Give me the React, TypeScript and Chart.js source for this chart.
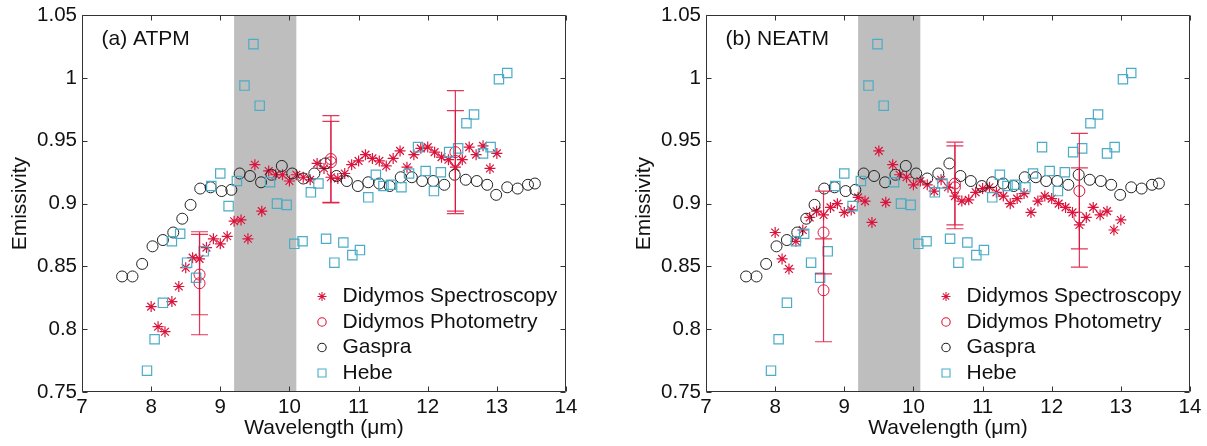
import React, { useEffect, useRef } from "react";
import { Chart, registerables } from "chart.js";

Chart.register(...registerables);

// ---------------- data ----------------
const xTickValues = [7, 8, 9, 10, 11, 12, 13, 14];
const xTickLabels = ["7", "8", "9", "10", "11", "12", "13", "14"];
const yTickValues = [0.75, 0.8, 0.85, 0.9, 0.95, 1.0, 1.05];
const yTickLabels = ["0.75", "0.8", "0.85", "0.9", "0.95", "1", "1.05"];
const xLabel = "Wavelength (\u03BCm)";
const yLabel = "Emissivity";
const panelLabels = ["(a) ATPM", "(b) NEATM"];
const seriesNames = ["Didymos Spectroscopy", "Didymos Photometry", "Gaspra", "Hebe"];
const bandStart = 9.2;
const bandEnd = 10.1;

const specWave = [
  8.0, 8.1, 8.2, 8.3, 8.4, 8.5, 8.6, 8.7, 8.8, 8.9,
  9.0, 9.1, 9.2, 9.3, 9.4, 9.5, 9.6, 9.7, 9.8, 9.9,
  10.0, 10.1, 10.2, 10.3, 10.4, 10.5, 10.6, 10.7, 10.8, 10.9,
  11.0, 11.1, 11.2, 11.3, 11.4, 11.5, 11.6, 11.7, 11.8, 11.9,
  12.0, 12.1, 12.2, 12.3, 12.4, 12.5, 12.6, 12.7, 12.8, 12.9,
  13.0,
];
const specATPM = [
  0.818, 0.802, 0.798, 0.822, 0.834, 0.849, 0.857, 0.856, 0.865, 0.872,
  0.868, 0.874, 0.886, 0.887, 0.872, 0.931, 0.894, 0.926, 0.923, 0.923,
  0.918, 0.923, 0.921, 0.919, 0.932, 0.928, 0.921, 0.920, 0.924, 0.931,
  0.934, 0.939, 0.936, 0.934, 0.930, 0.936, 0.942, 0.929, 0.939, 0.944,
  0.945, 0.941, 0.937, 0.935, 0.929, 0.935, 0.945, 0.939, 0.946, 0.928,
  0.940,
];
const specNEATM = [
  0.877, 0.856, 0.848, 0.870, 0.879, 0.889, 0.894, 0.891, 0.897, 0.900,
  0.893, 0.895, 0.905, 0.902, 0.885, 0.942, 0.901, 0.931, 0.923, 0.921,
  0.915, 0.918, 0.915, 0.910, 0.919, 0.913, 0.906, 0.902, 0.903, 0.909,
  0.912, 0.913, 0.909, 0.906, 0.900, 0.904, 0.908, 0.893, 0.902, 0.906,
  0.904, 0.900, 0.897, 0.893, 0.883, 0.889, 0.897, 0.891, 0.894, 0.879,
  0.887,
];

const photWave = [8.7, 8.7, 10.6, 10.6, 12.4, 12.4];
const photATPM = [0.8435, 0.8366, 0.9355, 0.933, 0.941, 0.934];
const photATPMErr = [0.032, 0.041, 0.0345, 0.0325, 0.049, 0.04];
const photNEATM = [0.877, 0.831, 0.916, 0.913, 0.91, 0.889];
const photNEATMErr = [0.033, 0.041, 0.033, 0.033, 0.046, 0.0395];

const gaspraWave = [
  7.58, 7.73, 7.87, 8.02, 8.17, 8.32, 8.45, 8.57, 8.71, 8.86,
  9.02, 9.16, 9.28, 9.43, 9.59, 9.74, 9.89, 10.04, 10.2, 10.36,
  10.52, 10.68, 10.83, 10.99, 11.14, 11.3, 11.45, 11.61, 11.77, 11.92,
  12.08, 12.24, 12.39, 12.55, 12.71, 12.86, 12.99, 13.15, 13.3, 13.45,
  13.55,
];
const gaspraEmis = [
  0.842, 0.842, 0.852, 0.866, 0.871, 0.877, 0.888, 0.899, 0.912, 0.913,
  0.91, 0.911, 0.924, 0.922, 0.917, 0.923, 0.93, 0.924, 0.92, 0.924,
  0.932, 0.922, 0.918, 0.914, 0.917, 0.916, 0.914, 0.921, 0.921, 0.918,
  0.918, 0.915, 0.923, 0.919, 0.918, 0.915, 0.907, 0.913, 0.912, 0.915,
  0.916,
];

const hebeWave = [
  7.94, 8.05, 8.17, 8.3, 8.42, 8.52, 8.65, 8.76, 8.87, 9.0,
  9.12, 9.24, 9.35, 9.48, 9.57, 9.72, 9.82, 9.96, 10.07, 10.19,
  10.31, 10.42, 10.53, 10.65, 10.78, 10.91, 11.02, 11.14, 11.25, 11.36,
  11.47, 11.62, 11.73, 11.86, 11.97, 12.09, 12.19, 12.31, 12.44, 12.56,
  12.67, 12.8, 12.91, 13.03, 13.15,
];
const hebeEmis = [
  0.767, 0.792, 0.821, 0.87, 0.876, 0.853, 0.841, 0.862, 0.914, 0.924,
  0.898, 0.918, 0.994, 1.027, 0.978, 0.917, 0.9, 0.899, 0.868, 0.87,
  0.909, 0.916, 0.872, 0.853, 0.869, 0.859, 0.863, 0.905, 0.923, 0.914,
  0.915, 0.913, 0.924, 0.945, 0.926, 0.91, 0.925, 0.941, 0.944, 0.964,
  0.971, 0.94, 0.945, 0.999, 1.004,
];

// ---------------- style ----------------
const FONT = '"Liberation Sans", Arial, Helvetica, sans-serif';
const RED = "#DC143C";
const CYAN = "#4BACC6";
const BLACK = "#222222";
const BAND = "#BEBEBE";
const TEXT = "#111111";
const seriesColors = [RED, RED, BLACK, CYAN];
const seriesMarkers = ["star", "circle", "circle", "rect"];
const legendSizes = [4.5, 4.2, 4.2, 4.0];

function drawMarker(ctx: CanvasRenderingContext2D, style: string, x: number, y: number, r: number, color: string, lw: number) {
  ctx.save();
  ctx.strokeStyle = color;
  ctx.lineWidth = lw;
  ctx.beginPath();
  if (style === "star") {
    for (let k = 0; k < 4; k++) {
      const a = (k * Math.PI) / 4;
      ctx.moveTo(x - r * Math.cos(a), y - r * Math.sin(a));
      ctx.lineTo(x + r * Math.cos(a), y + r * Math.sin(a));
    }
  } else if (style === "circle") {
    ctx.arc(x, y, r, 0, Math.PI * 2);
  } else {
    ctx.rect(x - r, y - r, 2 * r, 2 * r);
  }
  ctx.stroke();
  ctx.restore();
}

function buildConfig(panelIdx: number, spec: number[], phot: number[], photErr: number[], rightPad: number): any {
  const bandPlugin = {
    id: "band" + panelIdx,
    beforeDatasetsDraw(chart: any) {
      const { ctx, chartArea, scales } = chart;
      const x1 = scales.x.getPixelForValue(bandStart);
      const x2 = scales.x.getPixelForValue(bandEnd);
      ctx.save();
      ctx.fillStyle = BAND;
      ctx.fillRect(x1, chartArea.top, x2 - x1, chartArea.bottom - chartArea.top);
      ctx.restore();
    },
  };
  const errPlugin = {
    id: "err" + panelIdx,
    afterDatasetsDraw(chart: any) {
      const { ctx, scales } = chart;
      ctx.save();
      ctx.strokeStyle = RED;
      ctx.globalAlpha = 0.85;
      ctx.lineWidth = 1.2;
      for (let i = 0; i < photWave.length; i++) {
        const x = scales.x.getPixelForValue(photWave[i]);
        const y1 = scales.y.getPixelForValue(phot[i] + photErr[i]);
        const y2 = scales.y.getPixelForValue(phot[i] - photErr[i]);
        ctx.beginPath();
        ctx.moveTo(x, y1);
        ctx.lineTo(x, y2);
        ctx.moveTo(x - 8.5, y1);
        ctx.lineTo(x + 8.5, y1);
        ctx.moveTo(x - 8.5, y2);
        ctx.lineTo(x + 8.5, y2);
        ctx.stroke();
      }
      ctx.restore();
    },
  };
  const framePlugin = {
    id: "frame" + panelIdx,
    afterDraw(chart: any) {
      const { ctx, chartArea, scales } = chart;
      const L = Math.round(chartArea.left) + 0.5;
      const R = Math.round(chartArea.right) - 0.5;
      const T = Math.round(chartArea.top) + 0.5;
      const B = Math.round(chartArea.bottom) - 0.5;
      ctx.save();
      ctx.strokeStyle = "#333333";
      ctx.lineWidth = 1;
      ctx.beginPath();
      ctx.rect(L, T, R - L, B - T);
      const tl = 5;
      xTickValues.forEach((v) => {
        const px = Math.round(scales.x.getPixelForValue(v)) + 0.5;
        ctx.moveTo(px, B);
        ctx.lineTo(px, B - tl);
        ctx.moveTo(px, T);
        ctx.lineTo(px, T + tl);
      });
      yTickValues.forEach((v) => {
        const py = Math.round(scales.y.getPixelForValue(v)) + 0.5;
        ctx.moveTo(L, py);
        ctx.lineTo(L + tl, py);
        ctx.moveTo(R, py);
        ctx.lineTo(R - tl, py);
      });
      ctx.stroke();

      // panel label
      ctx.fillStyle = TEXT;
      ctx.font = "21px " + FONT;
      ctx.textAlign = "left";
      ctx.textBaseline = "middle";
      ctx.fillText(panelLabels[panelIdx], chartArea.left + 19.5, chartArea.top + 23.5);

      // legend
      const symX = chartArea.left + 240;
      const txtX = chartArea.left + 260.5;
      seriesNames.forEach((name, k) => {
        const y = chartArea.bottom - 95.5 + k * 25.5;
        drawMarker(ctx, seriesMarkers[k], symX, y, legendSizes[k], seriesColors[k], 1.1);
        ctx.fillStyle = TEXT;
        ctx.fillText(name, txtX, y);
      });
      ctx.restore();
    },
  };

  return {
    type: "scatter",
    data: {
      datasets: [
        {
          label: seriesNames[0],
          data: specWave.map((x, i) => ({ x, y: spec[i] })),
          pointStyle: "star",
          pointRadius: 5.5,
          borderColor: RED,
          backgroundColor: RED,
          borderWidth: 1.2,
          order: 3,
        },
        {
          label: seriesNames[1],
          data: photWave.map((x, i) => ({ x, y: phot[i] })),
          pointStyle: "circle",
          pointRadius: 5.5,
          borderColor: RED,
          backgroundColor: "rgba(0,0,0,0)",
          borderWidth: 1,
          order: 2,
        },
        {
          label: seriesNames[2],
          data: gaspraWave.map((x, i) => ({ x, y: gaspraEmis[i] })),
          pointStyle: "circle",
          pointRadius: 5.5,
          borderColor: BLACK,
          backgroundColor: "rgba(0,0,0,0)",
          borderWidth: 1,
          order: 1,
        },
        {
          label: seriesNames[3],
          data: hebeWave.map((x, i) => ({ x, y: hebeEmis[i] })),
          pointStyle: "rect",
          pointRadius: 6.6,
          borderColor: CYAN,
          backgroundColor: "rgba(0,0,0,0)",
          borderWidth: 1.2,
          order: 0,
        },
      ],
    },
    options: {
      responsive: false,
      animation: false,
      devicePixelRatio: 1,
      events: [],
      layout: { padding: { left: 0, top: 12, right: rightPad, bottom: 0 } },
      plugins: {
        legend: { display: false },
        tooltip: { enabled: false },
        title: { display: false },
      },
      scales: {
        x: {
          type: "linear",
          min: 7,
          max: 14,
          grid: { display: false, drawTicks: false },
          border: { display: false },
          afterBuildTicks: (s: any) => {
            s.ticks = xTickValues.map((v) => ({ value: v }));
          },
          afterFit: (s: any) => {
            s.height = 54;
          },
          ticks: {
            padding: 3,
            color: TEXT,
            maxRotation: 0,
            autoSkip: false,
            font: { family: FONT, size: 20.5, lineHeight: 1.2 },
            callback: (_v: any, i: number) => xTickLabels[i],
          },
          title: {
            display: true,
            text: xLabel,
            color: TEXT,
            font: { family: FONT, size: 21, lineHeight: 1.2 },
            padding: { top: 0, bottom: 5 },
          },
        },
        y: {
          type: "linear",
          min: 0.75,
          max: 1.05,
          grid: { display: false, drawTicks: false },
          border: { display: false },
          afterBuildTicks: (s: any) => {
            s.ticks = yTickValues.map((v) => ({ value: v }));
          },
          afterFit: (s: any) => {
            s.width = 82;
          },
          ticks: {
            padding: 5,
            color: TEXT,
            autoSkip: false,
            font: { family: FONT, size: 20.5, lineHeight: 1 },
            callback: (_v: any, i: number) => yTickLabels[i],
          },
          title: {
            display: true,
            text: yLabel,
            color: TEXT,
            font: { family: FONT, size: 21, lineHeight: 1.2 },
            padding: { top: 8, bottom: 0 },
          },
        },
      },
    },
    plugins: [bandPlugin, errPlugin, framePlugin],
  };
}

function Panel(props: { idx: number; spec: number[]; phot: number[]; err: number[]; left: number; width: number; rightPad: number }) {
  const ref = useRef<HTMLCanvasElement>(null);
  useEffect(() => {
    const chart = new Chart(ref.current as HTMLCanvasElement, buildConfig(props.idx, props.spec, props.phot, props.err, props.rightPad));
    return () => chart.destroy();
  }, []);
  return (
    <canvas
      ref={ref}
      width={props.width}
      height={446}
      style={{ position: "absolute", left: props.left, top: 0, width: props.width, height: 446 }}
    />
  );
}

export default function App() {
  return (
    <div style={{ position: "fixed", left: 0, top: 0, width: 1207, height: 446, background: "#ffffff", overflow: "hidden" }}>
      <Panel idx={0} spec={specATPM} phot={photATPM} err={photATPMErr} left={0} width={600} rightPad={34} />
      <Panel idx={1} spec={specNEATM} phot={photNEATM} err={photNEATMErr} left={624} width={583} rightPad={17} />
    </div>
  );
}
